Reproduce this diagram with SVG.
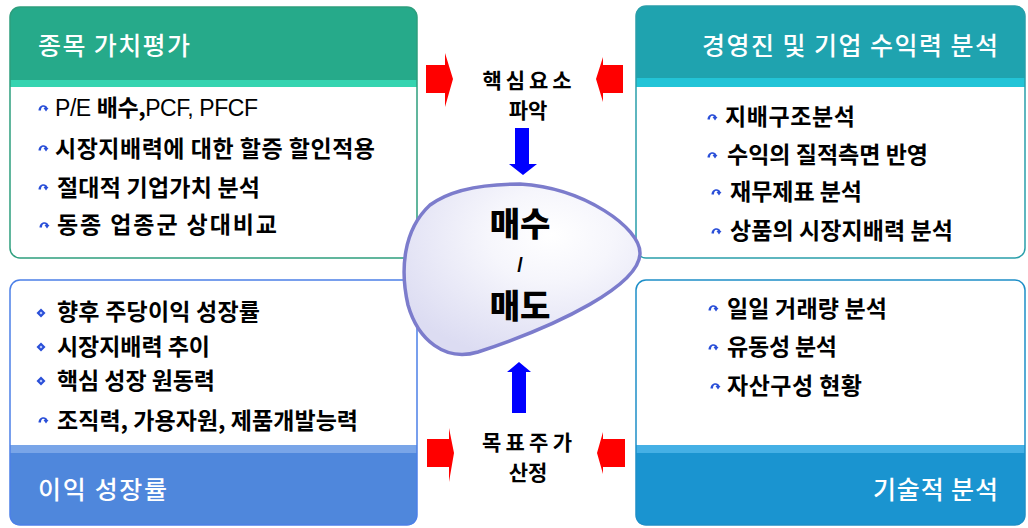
<svg xmlns="http://www.w3.org/2000/svg" width="1028" height="528" viewBox="0 0 1028 528">
<style>
.hd{font-family:"Noto Sans CJK KR","Noto Sans",sans-serif;font-size:25px;fill:#ffffff;font-weight:500}
.it{font-family:"Noto Sans CJK KR","Noto Sans",sans-serif;font-size:23px;fill:#000;font-weight:700}
.lt{font-family:"Liberation Sans","Noto Sans CJK KR",sans-serif;font-weight:400}
.ct{font-family:"Noto Sans CJK KR","Noto Sans",sans-serif;font-size:21px;fill:#000;font-weight:700;text-anchor:middle}
.big{font-family:"Noto Sans CJK KR","Noto Sans",sans-serif;font-size:33px;fill:#000;font-weight:900;text-anchor:middle}
.sl{font-family:"Liberation Sans",sans-serif;font-size:20px;fill:#000;font-weight:700;text-anchor:middle}
.red{fill:#ff0000}
.blue{fill:#0000ff}
</style>
<defs>
<radialGradient id="blobg" cx="0.62" cy="0.3" r="0.75">
<stop offset="0" stop-color="#ffffff"/>
<stop offset="0.35" stop-color="#f6f6fc"/>
<stop offset="1" stop-color="#dcdcf2"/>
</radialGradient>
<g id="bul">
<path d="M-4.5,2.5 C-4.5,-3 3,-4.5 4.5,0 L5.5,0 L3,3.5 L0.5,0 L2,0 C0.5,-2 -2,-1.5 -2,2.5 Z" fill="#2a4fd8"/>
</g>
<g id="dia">
<path d="M0,-4.5 L4.5,0 L0,4.5 L-4.5,0 Z" fill="#2a4fd8"/>
<path d="M0,-1.5 L1.5,0 L0,1.5 L-1.5,0 Z" fill="#c8d4ff"/>
</g>
</defs>
<rect width="1028" height="528" fill="#ffffff"/>

<g id="node-valuation">
<path d="M10,17 Q10,7 20,7 H407 Q417,7 417,17 V80 H10 Z" fill="#26aa8a"/>
<rect x="10" y="80" width="407" height="7" fill="#35d4b0"/>
<rect x="10" y="7" width="407" height="251" rx="10" fill="none" stroke="#2e9f7e" stroke-width="1.5"/>
<text class="hd" x="38" y="55" textLength="152" lengthAdjust="spacing">종목 가치평가</text>
<use href="#bul" x="43" y="108"/>
<text class="it" x="55" y="116" textLength="203" lengthAdjust="spacing"><tspan class="lt">P/E </tspan>배수,<tspan class="lt">PCF, PFCF</tspan></text>
<use href="#bul" x="43" y="148"/>
<text class="it" x="55" y="157" textLength="320" lengthAdjust="spacing">시장지배력에 대한 할증 할인적용</text>
<use href="#bul" x="43" y="187"/>
<text class="it" x="57" y="196" textLength="203" lengthAdjust="spacing">절대적 기업가치 분석</text>
<use href="#bul" x="44" y="225"/>
<text class="it" x="57" y="233" textLength="220" lengthAdjust="spacing">동종 업종군 상대비교</text>
</g>

<g id="node-management">
<path d="M636,16 Q636,6 646,6 H1015 Q1025,6 1025,16 V78 H636 Z" fill="#1fa3af"/>
<rect x="636" y="78" width="389" height="9" fill="#23c4d7"/>
<rect x="636" y="6" width="389" height="252" rx="10" fill="none" stroke="#2a9faa" stroke-width="1.5"/>
<text class="hd" x="998" y="55" text-anchor="end" textLength="296" lengthAdjust="spacing">경영진 및 기업 수익력 분석</text>
<use href="#bul" x="712" y="117"/>
<text class="it" x="725" y="125" textLength="130" lengthAdjust="spacing">지배구조분석</text>
<use href="#bul" x="712" y="155"/>
<text class="it" x="727" y="163" textLength="201" lengthAdjust="spacing">수익의 질적측면 반영</text>
<use href="#bul" x="716" y="192"/>
<text class="it" x="730" y="200" textLength="132" lengthAdjust="spacing">재무제표 분석</text>
<use href="#bul" x="716" y="231"/>
<text class="it" x="730" y="239" textLength="223" lengthAdjust="spacing">상품의 시장지배력 분석</text>
</g>

<g id="node-growth">
<rect x="10" y="445" width="407" height="8" fill="#79a5e8"/>
<path d="M10,453 H417 V515 Q417,525 407,525 H20 Q10,525 10,515 Z" fill="#4f87dc"/>
<rect x="10" y="280" width="407" height="245" rx="10" fill="none" stroke="#4c80e8" stroke-width="1.5"/>
<text class="hd" x="38" y="499" textLength="129" lengthAdjust="spacing">이익 성장률</text>
<use href="#dia" x="41" y="313"/>
<text class="it" x="57" y="320" textLength="203" lengthAdjust="spacing">향후 주당이익 성장률</text>
<use href="#dia" x="41" y="347"/>
<text class="it" x="57" y="355" textLength="153" lengthAdjust="spacing">시장지배력 추이</text>
<use href="#dia" x="41" y="381"/>
<text class="it" x="57" y="389" textLength="158" lengthAdjust="spacing">핵심 성장 원동력</text>
<use href="#bul" x="43" y="420"/>
<text class="it" x="57" y="429" textLength="301" lengthAdjust="spacing">조직력, 가용자원, 제품개발능력</text>
</g>

<g id="node-technical">
<rect x="636" y="445" width="389" height="8" fill="#45b0e5"/>
<path d="M636,453 H1025 V515 Q1025,525 1015,525 H646 Q636,525 636,515 Z" fill="#1a94d0"/>
<rect x="636" y="280" width="389" height="245" rx="10" fill="none" stroke="#1e8fc8" stroke-width="1.5"/>
<text class="hd" x="998" y="499" text-anchor="end" textLength="125" lengthAdjust="spacing">기술적 분석</text>
<use href="#bul" x="713" y="308"/>
<text class="it" x="727" y="317" textLength="160" lengthAdjust="spacing">일일 거래량 분석</text>
<use href="#bul" x="713" y="347"/>
<text class="it" x="727" y="355" textLength="110" lengthAdjust="spacing">유동성 분석</text>
<use href="#bul" x="715" y="386"/>
<text class="it" x="727" y="394" textLength="135" lengthAdjust="spacing">자산구성 현황</text>
</g>

<g id="node-decision">
<path d="M520,184 C585,188 640,228 640,253 C640,285 560,325 478,352 C445,362 418,340 408,305 C400,270 403,230 430,205 C450,190 480,184 520,184 Z" fill="url(#blobg)" stroke="#7c7ccc" stroke-width="3.5"/>
<text class="big" x="520" y="236">매수</text>
<text class="sl" x="520" y="272">/</text>
<text class="big" x="520" y="318">매도</text>
</g>

<g id="node-key">
<text class="ct" x="527" y="88" textLength="89" lengthAdjust="spacing">핵심요소</text>
<text class="ct" x="528" y="118">파악</text>
</g>

<g id="node-target">
<text class="ct" x="527" y="450" textLength="90" lengthAdjust="spacing">목표주가</text>
<text class="ct" x="528" y="480">산정</text>
</g>

<g id="connectors">
<path class="red" d="M426,65 H445 V53 L453,79 L445,107 V93 H426 Z"/>
<path class="red" d="M623,65 H603 V57 L596,79 L603,102 V93 H623 Z"/>
<path class="red" d="M427,439 H449 V428 L454,453 L449,482 V467 H427 Z"/>
<path class="red" d="M625,439 H603 V432 L597,453 L603,474 V467 H625 Z"/>
<path class="blue" d="M515,128 H529 V164 H537 L523,175 L509,164 H515 Z"/>
<path class="blue" d="M512,413 H526 V372 H531 L519,362 L507,372 H512 Z"/>
</g>
</svg>
